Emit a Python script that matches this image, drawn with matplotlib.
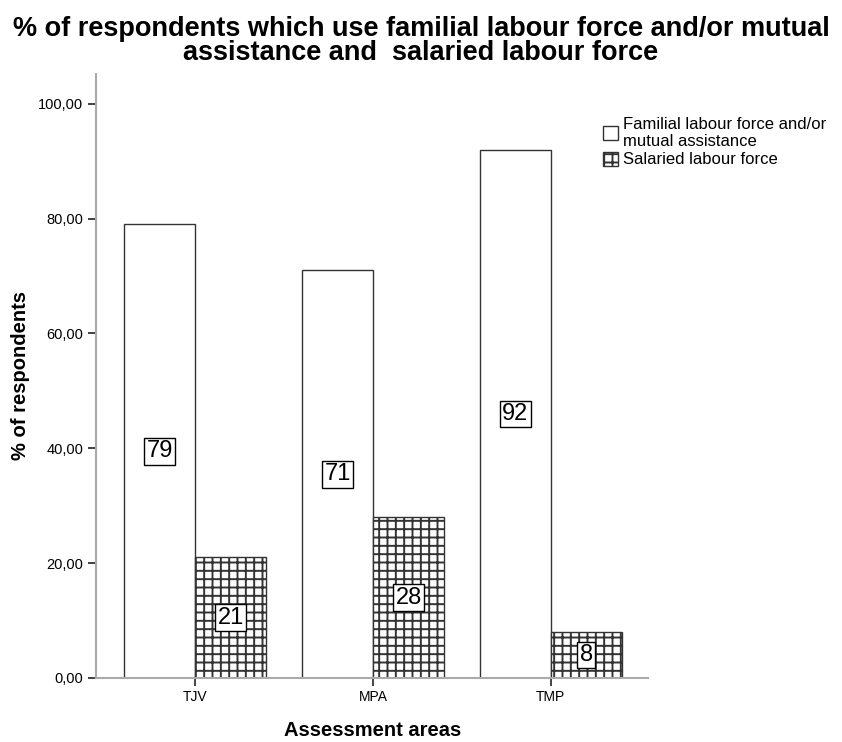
import matplotlib
matplotlib.use("Agg")
import matplotlib.pyplot as plt
import numpy as np

plt.rcParams['font.family'] = ['Liberation Sans', 'DejaVu Sans']
plt.rcParams['hatch.color'] = '#707070'
plt.rcParams['hatch.linewidth'] = 1.4

areas = ['TJV', 'MPA', 'TMP']
familial = [79, 71, 92]
salaried = [21, 28, 8]
series_names = ['Familial labour force and/or\nmutual assistance',
                'Salaried labour force']
yticks = [0, 20, 40, 60, 80, 100]
ytick_labels = ['0,00', '20,00', '40,00', '60,00', '80,00', '100,00']

fig = plt.figure(figsize=(8.42, 7.42), dpi=100)
ax = fig.add_axes([0.114, 0.0863, 0.656, 0.814])

x = np.arange(len(areas))
w = 0.4
b1 = ax.bar(x - w / 2, familial, w, color='white', edgecolor='#333333',
            linewidth=1.0, label=series_names[0])
b2 = ax.bar(x + w / 2, salaried, w, color='white', edgecolor='#333333',
            linewidth=1.0, hatch='++', label=series_names[1])

# value boxes in the middle of each bar
for bars in (b1, b2):
    for rect in bars:
        h = rect.get_height()
        ax.text(rect.get_x() + rect.get_width() / 2, h / 2, '%d' % h,
                ha='center', va='center', fontsize=17,
                bbox=dict(boxstyle='square,pad=0.1', facecolor='white',
                          edgecolor='black', linewidth=1.0))

ax.set_xlim(-0.56, 2.55)
ax.set_ylim(0, 105.2)
ax.set_xticks(x)
ax.set_xticklabels(areas, fontsize=10)
ax.set_yticks(yticks)
ax.set_yticklabels(ytick_labels, fontsize=10.5)
ax.tick_params(axis='both', direction='out', length=6, width=1.2,
               color='#222222', pad=3)

for side in ('top', 'right'):
    ax.spines[side].set_visible(False)
for side in ('left', 'bottom'):
    ax.spines[side].set_color('#aaaaaa')
    ax.spines[side].set_linewidth(1.5)

ax.set_xlabel('Assessment areas', fontsize=14.5, fontweight='bold', labelpad=12)
ax.set_ylabel('% of respondents', fontsize=14.5, fontweight='bold', labelpad=6)

fig.suptitle('% of respondents which use familial labour force and/or mutual\n'
             'assistance and  salaried labour force',
             fontsize=19.5, fontweight='bold', y=0.979, linespacing=0.92)

leg = ax.legend(loc='upper left', bbox_to_anchor=(0.905, 0.94), frameon=False,
                fontsize=12, handlelength=0.9, handleheight=0.9,
                handletextpad=0.3, labelspacing=0.15, borderaxespad=0)

fig.savefig('out.png', dpi=100, facecolor='white')
